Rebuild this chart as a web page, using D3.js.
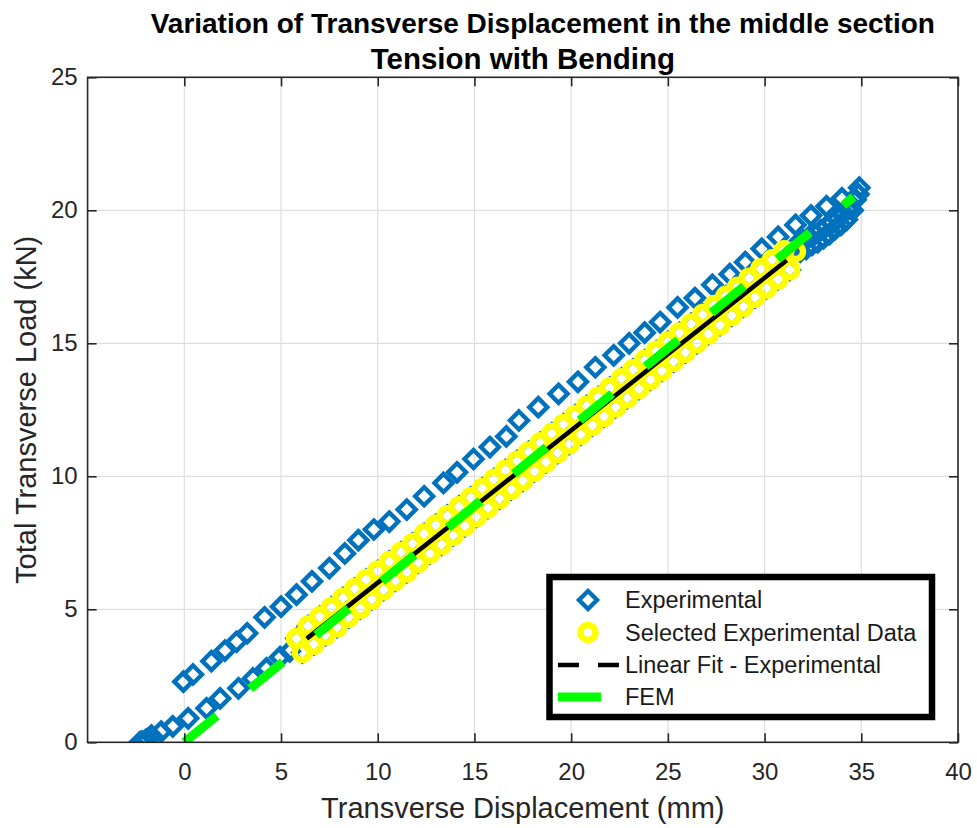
<!DOCTYPE html>
<html>
<head>
<meta charset="utf-8">
<script src="https://cdn.jsdelivr.net/npm/d3@7"></script>
<style>
  body { margin: 0; background: #fff; }
  svg { display: block; font-family: "Liberation Sans", Arial, Helvetica, sans-serif; }
</style>
</head>
<body>
<svg id="chart" width="977" height="828"></svg>
<script>
// ---- Text ----
const titleLines = ["Variation of Transverse Displacement in the middle section", "Tension with Bending"];
const xLabel = "Transverse Displacement (mm)";
const yLabel = "Total Transverse Load (kN)";
const legendLabels = ["Experimental", "Selected Experimental Data", "Linear Fit - Experimental", "FEM"];

// ---- Axes ----
const xDomain = [-5, 40];
const yDomain = [0, 25];
const xTicks = [0, 5, 10, 15, 20, 25, 30, 35, 40];
const yTicks = [0, 5, 10, 15, 20, 25];

// ---- Experimental: loading branch, start (before the selected window) ----
const loadStartX = [-2.3, -2.2, -2.1, -2.0, -1.9, -1.7, -1.2, -0.6, 0.2, 1.15, 1.85, 2.8, 3.55, 4.25, 4.95, 5.45];
const loadStartY = [0.0, 0.03, 0.0, 0.08, 0.12, 0.25, 0.4, 0.6, 0.9, 1.28, 1.65, 2.03, 2.4, 2.78, 3.2, 3.42];

// ---- Experimental: loading branch, selected window (used for the linear fit) ----
const selectedX = [5.8, 6.1, 6.4, 6.7, 7.0, 7.3, 7.6, 7.9, 8.2, 8.5, 8.8, 9.1, 9.4, 9.7, 10.0, 10.3, 10.6,
  10.9, 11.2, 11.5, 11.8, 12.1, 12.4, 12.7, 13.0, 13.3, 13.6, 13.9, 14.2, 14.5, 14.8, 15.1, 15.4, 15.7,
  16.0, 16.3, 16.6, 16.9, 17.2, 17.5, 17.8, 18.1, 18.4, 18.7, 19.0, 19.3, 19.6, 19.9, 20.2, 20.5, 20.8,
  21.1, 21.4, 21.7, 22.0, 22.3, 22.6, 22.9, 23.2, 23.5, 23.8, 24.1, 24.4, 24.7, 25.0, 25.3, 25.6, 25.9,
  26.2, 26.5, 26.8, 27.1, 27.4, 27.7, 28.0, 28.3, 28.6, 28.9, 29.2, 29.5, 29.8, 30.1, 30.4, 30.7, 31.0,
  31.3, 31.6];
const selectedY = [3.9, 3.38, 4.37, 3.68, 4.72, 4.03, 5.07, 4.33, 5.42, 4.7, 5.77, 5.03, 6.12, 5.38, 6.44, 5.73, 6.79,
  6.08, 7.14, 6.4, 7.47, 6.76, 7.83, 7.1, 8.17, 7.43, 8.52, 7.78, 8.86, 8.13, 9.2, 8.48, 9.54, 8.81,
  9.89, 9.16, 10.23, 9.51, 10.57, 9.84, 10.92, 10.19, 11.26, 10.53, 11.61, 10.88, 11.95, 11.22, 12.29, 11.57, 12.64,
  11.91, 12.98, 12.25, 13.33, 12.6, 13.67, 12.94, 14.01, 13.29, 14.36, 13.63, 14.7, 13.97, 15.05, 14.32, 15.39, 14.66,
  15.73, 15.01, 16.08, 15.35, 16.42, 15.69, 16.77, 16.04, 17.11, 16.38, 17.45, 16.73, 17.8, 17.07, 18.14, 17.41, 18.48,
  17.76, 18.45];

// ---- Experimental: loading branch, end (after the selected window) ----
const loadEndX = [31.7, 31.85, 32.0, 32.15, 32.3, 32.45, 32.6, 32.75, 32.9, 33.05, 33.2, 33.35, 33.5, 33.65,
  33.8, 33.95, 34.1, 34.25, 34.4, 34.55, 34.7, 34.85];
const loadEndY = [18.75, 18.45, 18.85, 18.55, 19.0, 18.7, 19.1, 18.8, 19.25, 18.95, 19.4, 19.1, 19.55, 19.3,
  19.7, 19.45, 19.9, 19.65, 20.1, 20.0, 20.4, 20.6];

// ---- Experimental: upper branch ----
const upperX = [-0.05, 0.45, 1.4, 2.1, 2.7, 3.25, 4.15, 5.0, 5.8, 6.6, 7.5, 8.3, 9.0, 9.8, 10.6, 11.5, 12.4,
  13.4, 14.1, 14.95, 15.8, 16.65, 17.3, 18.3, 19.35, 20.35, 21.25, 22.2, 23.0, 23.8, 24.6, 25.5, 26.4,
  27.3, 28.2, 29.0, 29.85, 30.7, 31.6, 32.4, 33.2, 34.0, 34.9];
const upperY = [2.28, 2.55, 3.05, 3.45, 3.78, 4.1, 4.7, 5.1, 5.55, 6.05, 6.55, 7.1, 7.6, 8.0, 8.3, 8.75, 9.25,
  9.75, 10.15, 10.65, 11.1, 11.5, 12.1, 12.6, 13.1, 13.55, 14.1, 14.55, 15.0, 15.4, 15.8, 16.35, 16.7,
  17.2, 17.6, 18.05, 18.55, 19.0, 19.45, 19.8, 20.15, 20.45, 20.85];

// ---- Linear fit of the selected data: slope, intercept and x range ----
const fitCoef = [0.573, 0.27];
const fitRangeX = [6.33, 31.15];

// ---- FEM prediction ----
const femX = [0, 34.6];
const femY = [0, 20.5];

// ---- Colours ----
const colExp = "#0072BD", colSel = "#FFFF00", colFit = "#000000", colFem = "#00FF00";
const axisCol = "#262626", gridCol = "#dedede";

// ---- Layout ----
const W = 977, H = 828;
const plot = { left: 87.6, right: 958, top: 77.3, bottom: 742.3 };

const svg = d3.select("#chart");
svg.append("rect").attr("width", W).attr("height", H).attr("fill", "#fff");

const x = d3.scaleLinear().domain(xDomain).range([plot.left, plot.right]);
const y = d3.scaleLinear().domain(yDomain).range([plot.bottom, plot.top]);

// Grid
const grid = svg.append("g");
grid.selectAll(".gx").data(xTicks.filter(t => t > xDomain[0] && t < xDomain[1])).join("line")
  .attr("x1", d => x(d)).attr("x2", d => x(d)).attr("y1", plot.top).attr("y2", plot.bottom)
  .attr("stroke", gridCol).attr("stroke-width", 1.2);
grid.selectAll(".gy").data(yTicks.filter(t => t > yDomain[0] && t < yDomain[1])).join("line")
  .attr("y1", d => y(d)).attr("y2", d => y(d)).attr("x1", plot.left).attr("x2", plot.right)
  .attr("stroke", gridCol).attr("stroke-width", 1.2);

// Clip region for data
svg.append("clipPath").attr("id", "clip").append("rect")
  .attr("x", plot.left).attr("y", plot.top)
  .attr("width", plot.right - plot.left).attr("height", plot.bottom - plot.top);
const data = svg.append("g").attr("clip-path", "url(#clip)");

// Marker geometry
const dHalf = 9, dStroke = 4.4;          // diamond
const cR = 7.5, cStroke = 6.4;           // ring
const diamond = (px, py) => `M${px},${py - dHalf}L${px + dHalf},${py}L${px},${py + dHalf}L${px - dHalf},${py}Z`;

// Experimental series (markers only)
const expX = loadStartX.concat(selectedX, loadEndX, upperX);
const expY = loadStartY.concat(selectedY, loadEndY, upperY);
const expPts = expX.map((v, i) => [v, expY[i]]);
data.append("g").selectAll("path").data(expPts).join("path")
  .attr("d", d => diamond(x(d[0]), y(d[1])))
  .attr("fill", "none").attr("stroke", colExp).attr("stroke-width", dStroke);

// Selected experimental data (yellow rings)
const selPts = selectedX.map((v, i) => [v, selectedY[i]]);
data.append("g").selectAll("circle").data(selPts).join("circle")
  .attr("cx", d => x(d[0])).attr("cy", d => y(d[1])).attr("r", cR)
  .attr("fill", "none").attr("stroke", colSel).attr("stroke-width", cStroke);

// Linear fit
const fitPts = fitRangeX.map(v => [v, fitCoef[0] * v + fitCoef[1]]);
const line = d3.line().x(d => x(d[0])).y(d => y(d[1]));
data.append("path").attr("d", line(fitPts))
  .attr("fill", "none").attr("stroke", colFit).attr("stroke-width", 4.5);

// FEM
const femPts = femX.map((v, i) => [v, femY[i]]);
data.append("path").attr("d", line(femPts))
  .attr("fill", "none").attr("stroke", colFem).attr("stroke-width", 9)
  .attr("stroke-dasharray", "42,43");

// Axes box and ticks
const ax = svg.append("g");
ax.append("rect").attr("x", plot.left).attr("y", plot.top)
  .attr("width", plot.right - plot.left).attr("height", plot.bottom - plot.top)
  .attr("fill", "none").attr("stroke", axisCol).attr("stroke-width", 1.6);

const tickLen = 9;
const xAxisB = d3.axisBottom(x).tickValues(xTicks).tickSize(-tickLen).tickPadding(tickLen + 12).tickFormat(d3.format("d"));
const xAxisT = d3.axisTop(x).tickValues(xTicks).tickSize(-tickLen).tickFormat("");
const yAxisL = d3.axisLeft(y).tickValues(yTicks).tickSize(-tickLen).tickPadding(10).tickFormat(d3.format("d"));
const yAxisR = d3.axisRight(y).tickValues(yTicks).tickSize(-tickLen).tickFormat("");

function styleAxis(g) {
  g.select(".domain").remove();
  g.selectAll(".tick line").attr("stroke", axisCol).attr("stroke-width", 1.6);
  g.selectAll(".tick text").attr("fill", axisCol).attr("font-size", 24)
    .attr("font-family", "'Liberation Sans', Arial, Helvetica, sans-serif");
}
ax.append("g").attr("transform", `translate(0,${plot.bottom})`).call(xAxisB).call(styleAxis);
ax.append("g").attr("transform", `translate(0,${plot.top})`).call(xAxisT).call(styleAxis);
ax.append("g").attr("transform", `translate(${plot.left},0)`).call(yAxisL).call(styleAxis);
ax.append("g").attr("transform", `translate(${plot.right},0)`).call(yAxisR).call(styleAxis);

// Axis labels
const cx = (plot.left + plot.right) / 2;
svg.append("text").attr("x", cx).attr("y", 818).attr("text-anchor", "middle")
  .attr("font-size", 29).attr("fill", axisCol).text(xLabel);
svg.append("text").attr("transform", `translate(36,${(plot.top + plot.bottom) / 2}) rotate(-90)`)
  .attr("text-anchor", "middle").attr("font-size", 29).attr("fill", axisCol).text(yLabel);

// Title (two lines)
const titleStyle = [{ dx: 20, y: 33, size: 28 }, { dx: 0, y: 69, size: 29.5 }];
svg.append("g").selectAll("text").data(titleLines).join("text")
  .attr("x", (d, i) => cx + titleStyle[i].dx).attr("y", (d, i) => titleStyle[i].y)
  .attr("text-anchor", "middle")
  .attr("font-size", (d, i) => titleStyle[i].size).attr("font-weight", "bold").attr("fill", "#000").text(d => d);

// Legend
const lg = svg.append("g");
const lgBox = { x: 549.5, y: 577, w: 382.5, h: 140 };
lg.append("rect").attr("x", lgBox.x).attr("y", lgBox.y).attr("width", lgBox.w).attr("height", lgBox.h)
  .attr("fill", "#fff").attr("stroke", "#000").attr("stroke-width", 6.5);
const rowY = [600, 632.5, 665, 697];
const iconX = 588, textX = 625;
lg.append("path").attr("d", diamond(iconX, rowY[0]))
  .attr("fill", "none").attr("stroke", colExp).attr("stroke-width", dStroke);
lg.append("circle").attr("cx", iconX).attr("cy", rowY[1]).attr("r", cR)
  .attr("fill", "none").attr("stroke", colSel).attr("stroke-width", cStroke);
lg.append("line").attr("x1", 558).attr("x2", 619).attr("y1", rowY[2]).attr("y2", rowY[2])
  .attr("stroke", colFit).attr("stroke-width", 4.5).attr("stroke-dasharray", "21,19");
lg.append("line").attr("x1", 558).attr("x2", 601).attr("y1", rowY[3]).attr("y2", rowY[3])
  .attr("stroke", colFem).attr("stroke-width", 9);
lg.selectAll(".lt").data(legendLabels).join("text")
  .attr("x", textX).attr("y", (d, i) => rowY[i]).attr("dy", "0.36em")
  .attr("font-size", 23.5).attr("fill", "#1a1a1a").text(d => d);
</script>
</body>
</html>
